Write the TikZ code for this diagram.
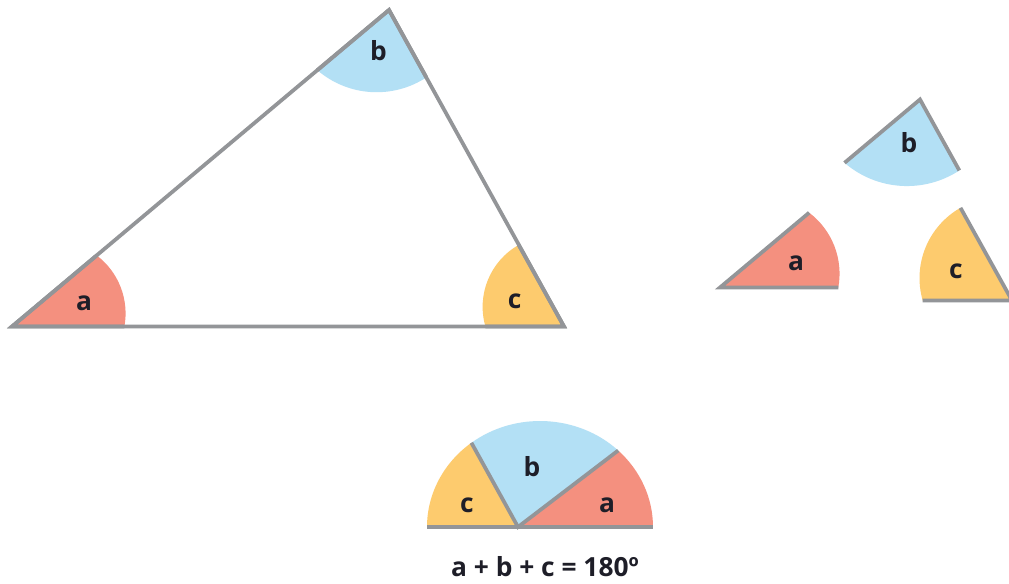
\documentclass[tikz,border=0pt]{standalone}
\usepackage{fontspec}
\setmainfont{Open Sans}
\usepackage{tikz}

\definecolor{angA}{HTML}{F4907F}
\definecolor{angB}{HTML}{B3E0F5}
\definecolor{angC}{HTML}{FDCB6E}
\definecolor{edgegray}{HTML}{939598}
\definecolor{labelink}{HTML}{1E1E28}

\begin{document}
\begin{tikzpicture}[x=0.02cm, y=0.02cm,
    edge/.style={draw=edgegray, line width=0.075cm},
    lbl/.style={font=\bfseries\fontsize{15}{17}\selectfont, text=labelink, inner sep=0pt},
    apiece/.pic={
      \fill[angA] (0,0) -- (118.3,0) arc[start angle=-10.4, end angle=53, radius=76.4] -- cycle;
      \draw[edge] (40:116.4) -- (0,0) -- (118.3,0);
      \node[lbl] (-l) at (76,24) {a};
    },
    bpiece/.pic={
      \fill[angB] (0,0) -- (220:98.5) arc[start angle=229.2, end angle=303.2, radius=95.6] -- cycle;
      \draw[edge] (220:98.5) -- (0,0) -- (299:81.1);
      \node[lbl] (-l) at (-11,-43) {b};
    },
    cpiece/.pic={
      \fill[angC] (0,0) -- (180:89.3) arc[start angle=196.1, end angle=119.6, radius=80.8] -- cycle;
      \draw[edge] (180:89.3) -- (0,0) -- (119.06:106);
      \node[lbl] (-l) at (-56,29) {c};
    }
  ]
    \fill[white] (0,0) rectangle (1009,583);
    \clip (0,0) rectangle (1009,583);

    % triangle
    \coordinate (A) at (12,256.5);
    \coordinate (B) at (389,573);
    \coordinate (C) at (564,256.5);
    \pic[scale=0.95] (ma) at (A) {apiece};
    \pic[scale=0.95] (mb) at (B) {bpiece};
    \pic[scale=0.88] (mc) at (C) {cpiece};
    \draw[edge] (A) -- (B) -- (C) -- cycle;

    % cut out angles
    \pic (pa) at (720,295.5) {apiece};
    \pic (pb) at (920,483.5) {bpiece};
    \pic (pc) at (1012,282.5) {cpiece};

    % angles put together
    \coordinate (O) at (518,56);
    \coordinate (L) at (427,56);
    \coordinate (R) at (653,56);
    \coordinate (P1) at (471.4,140.2);
    \coordinate (P2) at (618.2,132.5);
    \fill[angC] (O) -- (L) arc[start angle=180, end angle=127.4, x radius=113, y radius=106] -- cycle;
    \fill[angB] (O) -- (P1) arc[start angle=127.4, end angle=46.2, x radius=113, y radius=106] -- cycle;
    \fill[angA] (O) -- (P2) arc[start angle=46.2, end angle=0, x radius=113, y radius=106] -- cycle;
    \draw[edge] (L) -- (R);
    \draw[edge] (P1) -- (O) -- (P2);
    \node[lbl] (sc) at (467,78) {c};
    \node[lbl] (sb) at (532,116) {b};
    \node[lbl] (sa) at (607,78) {a};
    \node[lbl] (sum) at (545,16) {a + b + c = 180º};
\end{tikzpicture}
\end{document}
